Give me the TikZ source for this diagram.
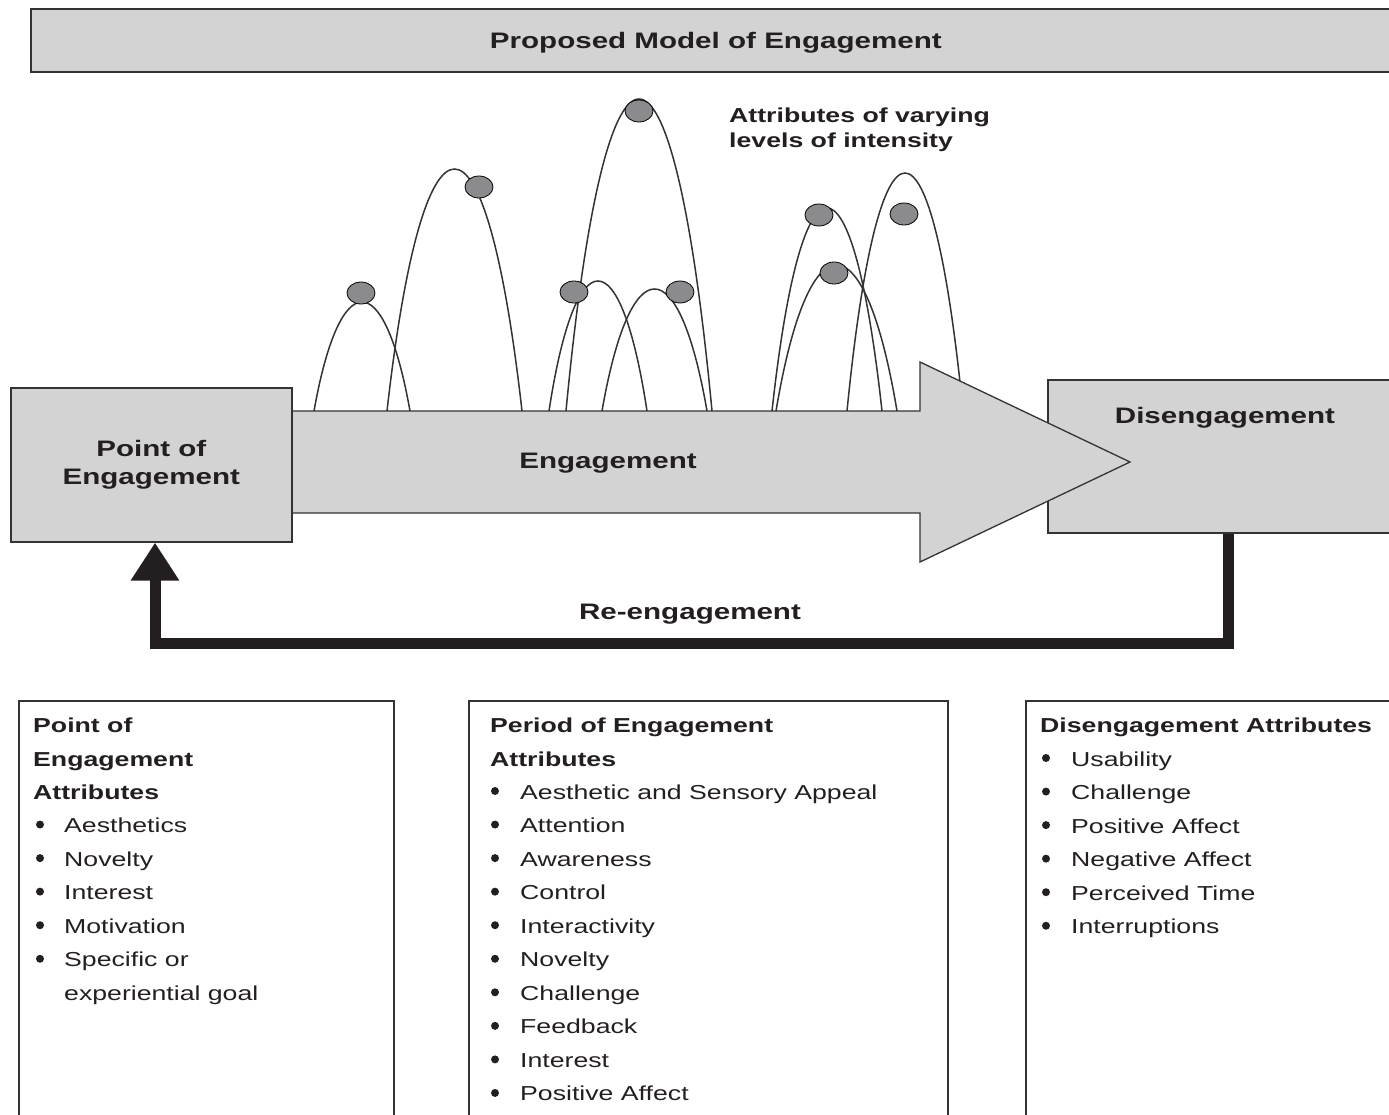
\documentclass[tikz,border=0pt]{standalone}
\usepackage{fontspec}
\setmainfont[FakeStretch=1.32]{Liberation Sans}
\usetikzlibrary{arrows.meta}
\definecolor{boxgray}{HTML}{D3D3D3}
\definecolor{dotgray}{HTML}{8B8B8E}
\definecolor{txt}{HTML}{231F20}
\definecolor{edge}{HTML}{333333}
\begin{document}
\begin{tikzpicture}[x=1pt,y=-1pt,
  big/.style={font=\fontsize{22.4}{28}\selectfont\bfseries, text=txt, align=center},
  itemtxt/.style={font=\fontsize{20.2}{25}\selectfont, text=txt, anchor=base west, inner sep=0pt},
  titletxt/.style={font=\fontsize{20.2}{25}\selectfont\bfseries, text=txt, anchor=base west, inner sep=0pt},
  graybox/.style={draw=edge, line width=1.6pt, fill=boxgray, rectangle, inner sep=0pt},
  listbox/.style={draw=edge, line width=1.8pt, rectangle, inner sep=0pt, anchor=north west},
  arch/.style={draw=edge, line width=1.5pt},
  attrdot/.style={draw=black, line width=0.8pt, fill=dotgray},
  bul/.style={fill=txt}
]
\useasboundingbox (0,0) rectangle (1389,1115);
\clip (0,0) rectangle (1389,1115);

% header
\node[graybox, anchor=north west, minimum width=1370pt, minimum height=63pt,
      font=\fontsize{22.4}{28}\selectfont\bfseries, text=txt, text depth=0pt] (header) at (30,8) {Proposed Model of Engagement};

% disengagement box (under arrow)
\node[graybox, anchor=north west, minimum width=360pt, minimum height=153pt] (dis) at (1047,379) {};
\node[big] (distxt) at (1225,418) {Disengagement};

% arches
\foreach \a/\b/\p in {314/410/302, 387/522/169, 566/712/99, 549/647/281, 602/707/289, 772/882/208, 776/897/265, 847/963/173}{
  \draw[arch] (\a,411) .. controls ({\a+0.27*(\b-\a)},{411-4/3*(411-\p)}) and ({\b-0.27*(\b-\a)},{411-4/3*(411-\p)}) .. (\b,411);
}
% dots
\foreach \x/\y in {361/293, 479/187, 639/111, 574/292, 680/292, 819/215, 834/273, 904/214}{
  \draw[attrdot] (\x,\y) ellipse [x radius=14pt, y radius=11pt];
}
\node[font=\fontsize{20.2}{25}\selectfont\bfseries, text=txt, anchor=base west, inner sep=0pt] (att1) at (729,123) {Attributes of varying};
\node[font=\fontsize{20.2}{25}\selectfont\bfseries, text=txt, anchor=base west, inner sep=0pt] (att2) at (729,148) {levels of intensity};

% engagement arrow
\draw[draw=edge, line width=1.3pt, fill=boxgray, line join=miter]
  (291,411) -- (920,411) -- (920,362) -- (1130,462) -- (920,562) -- (920,513) -- (291,513) -- cycle;
\node[big] (engtxt) at (608,463) {Engagement};

% point of engagement
\node[graybox, anchor=north west, minimum width=281pt, minimum height=154pt,
      font=\fontsize{22.4}{28}\selectfont\bfseries, text=txt, align=center] (poe) at (10,387) {Point of\\Engagement};

% re-engagement loop
\coordinate (c1) at (1228,643);
\coordinate (c2) at (155,643);
\draw[line width=11pt, line join=miter, draw=txt, -{Triangle[width=46pt,length=38pt]}]
  (dis.south -| c1) -- (c1) -- (c2) -- (poe.south -| c2);
\node[big] (retxt) at (690,614) {Re-engagement};

% bottom boxes
\node[listbox, minimum width=375pt, minimum height=440pt] (b1) at (18,700) {};
\node[listbox, minimum width=479pt, minimum height=440pt] (b2) at (468,700) {};
\node[listbox, minimum width=380pt, minimum height=440pt] (b3) at (1025,700) {};

% box 1
\node[titletxt] (t1a) at (33,732) {Point of};
\node[titletxt] (t1b) at (33,766) {Engagement};
\node[titletxt] (t1c) at (33,799) {Attributes};
\foreach \t [count=\i] in {Aesthetics, Novelty, Interest, Motivation, Specific or}{
  \node[itemtxt] (p\i) at (64,{799+33.55*\i}) {\t};
  \fill[bul] (40,{799+33.55*\i-8}) circle (4pt);
}
\node[itemtxt] (p6) at (64,{799+33.55*6}) {experiential goal};

% box 2
\node[titletxt] (t2a) at (490,732) {Period of Engagement};
\node[titletxt] (t2b) at (490,766) {Attributes};
\foreach \t [count=\i] in {Aesthetic and Sensory Appeal, Attention, Awareness, Control, Interactivity, Novelty, Challenge, Feedback, Interest, Positive Affect}{
  \node[itemtxt] (q\i) at (520,{799+33.55*(\i-1)}) {\t};
  \fill[bul] (495,{799+33.55*(\i-1)-8}) circle (4pt);
}

% box 3
\node[titletxt] (t3a) at (1040,732) {Disengagement Attributes};
\foreach \t [count=\i] in {Usability, Challenge, Positive Affect, Negative Affect, Perceived Time, Interruptions}{
  \node[itemtxt] (r\i) at (1071,{766+33.55*(\i-1)}) {\t};
  \fill[bul] (1046,{766+33.55*(\i-1)-8}) circle (4pt);
}
\end{tikzpicture}
\end{document}
